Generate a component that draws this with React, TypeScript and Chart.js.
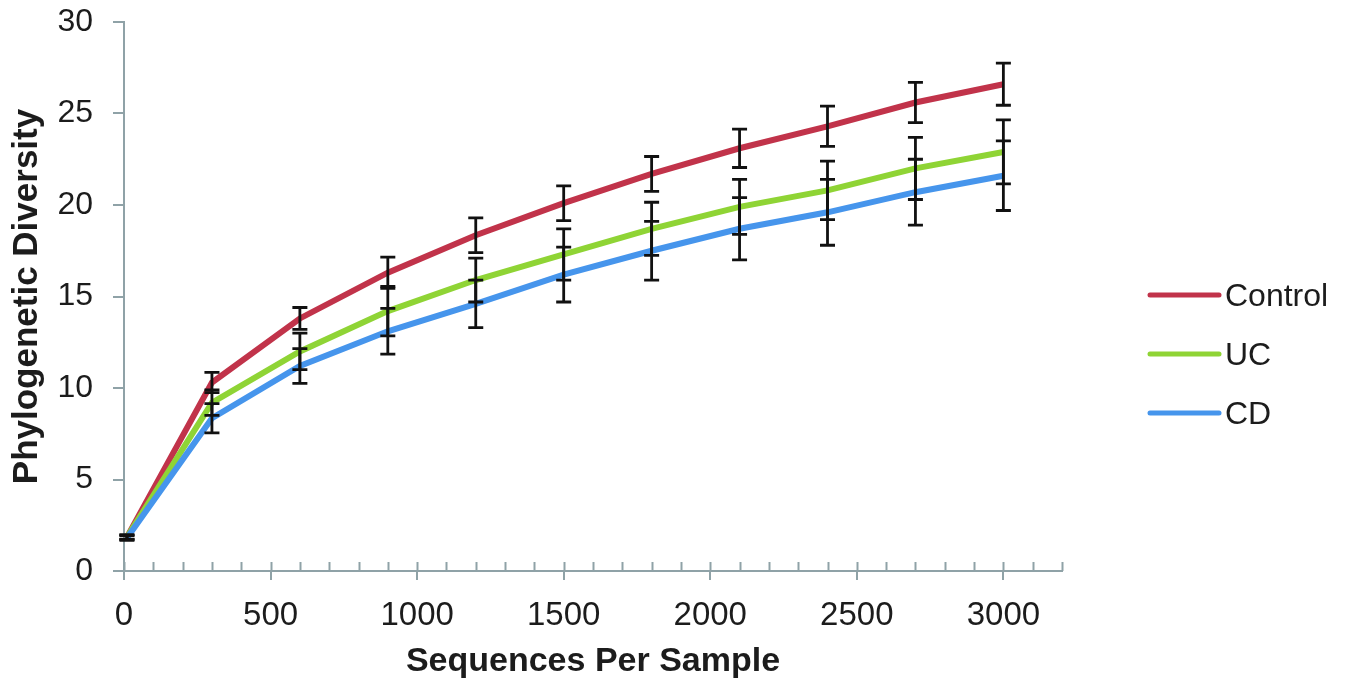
import React, { useEffect, useRef } from "react";
import { Chart, registerables } from "chart.js";

Chart.register(...registerables);

const xValues = [10, 300, 600, 900, 1200, 1500, 1800, 2100, 2400, 2700, 3000];
const seriesLabels = ["Control", "UC", "CD"];
const controlValues = [1.85, 10.3, 13.8, 16.3, 18.35, 20.1, 21.7, 23.1, 24.3, 25.6, 26.6];
const controlErr = [0.12, 0.55, 0.6, 0.85, 0.95, 0.95, 0.95, 1.05, 1.1, 1.1, 1.15];
const ucValues = [1.85, 9.2, 12.0, 14.2, 15.9, 17.3, 18.7, 19.9, 20.8, 22.0, 22.9];
const ucErr = [0.12, 0.7, 1.0, 1.35, 1.2, 1.4, 1.45, 1.5, 1.6, 1.7, 1.75];
const cdValues = [1.8, 8.35, 11.2, 13.1, 14.6, 16.2, 17.5, 18.7, 19.6, 20.7, 21.6];
const cdErr = [0.12, 0.8, 0.95, 1.25, 1.3, 1.5, 1.6, 1.7, 1.8, 1.8, 1.9];
const seriesColors = ["#C1334A", "#8FD435", "#4695EC"];

const FONT = "'Liberation Sans', Arial, sans-serif";
const AXIS_COLOR = "#8FA2A7";
const TEXT_COLOR = "#1c1c1c";

export default function App() {
  const canvasRef = useRef<HTMLCanvasElement | null>(null);

  useEffect(() => {
    const canvas = canvasRef.current;
    if (!canvas) return;
    const valuesList = [controlValues, ucValues, cdValues];
    const errList = [controlErr, ucErr, cdErr];

    const datasets = valuesList.map((vals, i) => ({
      label: seriesLabels[i],
      data: vals.map((v, j) => ({ x: xValues[j], y: v })),
      borderColor: seriesColors[i],
      backgroundColor: seriesColors[i],
      borderWidth: 6,
      pointRadius: 0,
      tension: 0,
      order: 2 - i,
      errors: errList[i],
    }));

    const extras = {
      id: "extras",
      beforeDatasetsDraw(chart: any) {
        const { ctx, chartArea, scales } = chart;
        const xs = scales.x;
        ctx.save();
        ctx.strokeStyle = AXIS_COLOR;
        ctx.lineWidth = 2;
        for (const t of xs.ticks) {
          const px = Math.round(xs.getPixelForValue(t.value)) + 0.5;
          ctx.beginPath();
          ctx.moveTo(px, chartArea.bottom);
          ctx.lineTo(px, chartArea.bottom - 9);
          ctx.stroke();
        }
        ctx.restore();
      },
      afterDatasetsDraw(chart: any) {
        const { ctx, scales } = chart;
        const xs = scales.x;
        const ys = scales.y;
        ctx.save();
        ctx.strokeStyle = "#111";
        ctx.lineWidth = 2.8;
        chart.data.datasets.forEach((ds: any) => {
          ds.data.forEach((p: any, j: number) => {
            const e = ds.errors[j];
            const px = xs.getPixelForValue(p.x);
            const top = ys.getPixelForValue(p.y + e);
            const bot = ys.getPixelForValue(p.y - e);
            ctx.beginPath();
            ctx.moveTo(px, top);
            ctx.lineTo(px, bot);
            ctx.moveTo(px - 7.5, top);
            ctx.lineTo(px + 7.5, top);
            ctx.moveTo(px - 7.5, bot);
            ctx.lineTo(px + 7.5, bot);
            ctx.stroke();
          });
        });
        ctx.restore();
      },
      afterDraw(chart: any) {
        const { ctx } = chart;
        ctx.save();
        chart.data.datasets.forEach((ds: any, i: number) => {
          const y = 295 + i * 59;
          ctx.strokeStyle = ds.borderColor;
          ctx.lineWidth = 5;
          ctx.lineCap = "round";
          ctx.beginPath();
          ctx.moveTo(1150, y);
          ctx.lineTo(1219, y);
          ctx.stroke();
          ctx.fillStyle = TEXT_COLOR;
          ctx.font = `32px ${FONT}`;
          ctx.textBaseline = "middle";
          ctx.textAlign = "left";
          ctx.fillText(ds.label, 1225, y + 2);
        });
        ctx.restore();
      },
    };

    const chart = new Chart(canvas, {
      type: "line",
      data: { datasets: datasets as any },
      options: {
        animation: false,
        responsive: false,
        maintainAspectRatio: false,
        layout: { padding: { top: 22, right: 283, left: 0, bottom: 0 } },
        plugins: { legend: { display: false }, tooltip: { enabled: false } },
        scales: {
          x: {
            type: "linear",
            min: 0,
            max: 3200,
            afterFit(scale: any) {
              scale.height = 111;
              scale.paddingLeft = 0;
              scale.paddingRight = 0;
            },
            ticks: {
              stepSize: 100,
              autoSkip: false,
              maxRotation: 0,
              padding: 16,
              color: TEXT_COLOR,
              font: { family: FONT, size: 33 },
              callback: (v: any) => (Number(v) % 500 === 0 ? String(v) : ""),
            },
            grid: {
              drawOnChartArea: false,
              drawTicks: true,
              tickLength: 9,
              lineWidth: 2,
              color: (c: any) =>
                c.tick && c.tick.value % 500 === 0 ? AXIS_COLOR : "rgba(0,0,0,0)",
            },
            border: { display: true, color: AXIS_COLOR, width: 2 },
            title: {
              display: true,
              text: "Sequences Per Sample",
              color: TEXT_COLOR,
              font: { family: FONT, size: 34, weight: "bold" },
              padding: { top: 0, bottom: 0 },
            },
          },
          y: {
            min: 0,
            max: 30,
            afterFit(scale: any) {
              scale.width = 124;
              scale.paddingTop = 0;
              scale.paddingBottom = 0;
            },
            ticks: {
              stepSize: 5,
              padding: 20,
              color: TEXT_COLOR,
              font: { family: FONT, size: 32 },
            },
            grid: {
              drawOnChartArea: false,
              drawTicks: true,
              tickLength: 11,
              lineWidth: 2,
              color: AXIS_COLOR,
            },
            border: { display: true, color: AXIS_COLOR, width: 2 },
            title: {
              display: true,
              text: "Phylogenetic Diversity",
              color: TEXT_COLOR,
              font: { family: FONT, size: 35, weight: "bold" },
              padding: { top: 6, bottom: 0 },
            },
          },
        },
      },
      plugins: [extras],
    });
    return () => chart.destroy();
  }, []);

  return (
    <div style={{ position: "absolute", left: 0, top: 0, width: 1345, height: 682, background: "#fff" }}>
      <canvas ref={canvasRef} width={1345} height={682} style={{ display: "block" }} />
    </div>
  );
}
